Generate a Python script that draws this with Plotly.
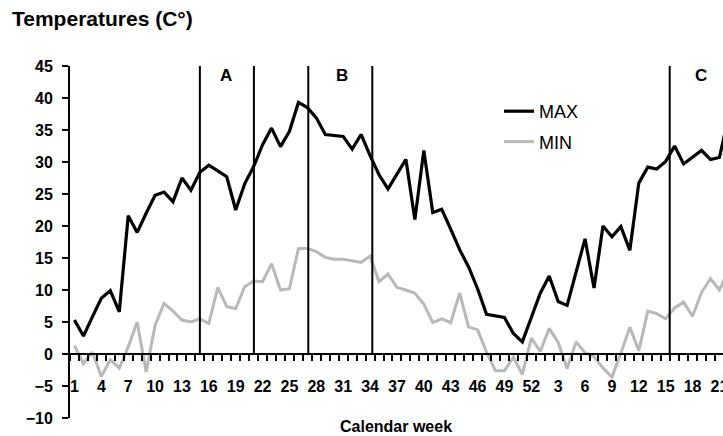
import plotly.graph_objects as go

# Calendar weeks: year 1 weeks 1..52, then year 2 weeks 1..22
weeks = list(range(1, 53)) + list(range(1, 23))

max_temp = [5.3, 2.8, 5.8, 8.7, 9.9, 6.6, 21.6, 19.0, 22.0, 24.8,
            25.3, 23.8, 27.5, 25.6, 28.4, 29.5, 28.6, 27.7, 22.5, 26.6,
            29.3, 32.7, 35.3, 32.4, 34.8, 39.3, 38.5, 36.9, 34.3, 34.2,
            34.0, 32.0, 34.3, 31.0, 28.0, 25.8, 28.0, 30.4, 21.0, 31.8,
            22.1, 22.6, 19.5, 16.3, 13.6, 10.2, 6.2, 6.0, 5.7, 3.2,
            1.9, 5.7, 9.5, 12.2, 8.2, 7.6, 12.6, 18.0, 10.3, 20.0,
            18.3, 19.9, 16.2, 26.7, 29.2, 28.9, 30.1, 32.5, 29.7, 30.8,
            31.8, 30.4, 30.7, 37.0]

min_temp = [1.3, -1.5, 0.3, -3.5, -0.9, -2.2, 1.1, 5.0, -2.8, 4.5,
            7.9, 6.7, 5.3, 5.0, 5.5, 4.8, 10.4, 7.4, 7.1, 10.5,
            11.4, 11.3, 14.1, 10.0, 10.2, 16.5, 16.5, 16.0, 15.1, 14.8,
            14.8, 14.5, 14.3, 15.3, 11.3, 12.5, 10.4, 10.0, 9.5, 7.8,
            4.9, 5.5, 4.9, 9.5, 4.2, 3.8, 0.3, -2.6, -2.6, -0.5,
            -3.2, 2.5, 0.4, 4.0, 1.8, -2.3, 1.9, 0.2, -0.4, -2.2,
            -3.6, 0.1, 4.2, 0.5, 6.7, 6.3, 5.5, 7.2, 8.1, 5.9,
            9.6, 11.8, 10.0, 13.0]

# period boundaries (in week-position units) and period labels
period_lines = [14.0, 20.03, 26.1, 33.25, 66.45]
period_labels = ["A", "B", "C"]
period_label_pos = [16.9, 29.85, 69.95]

x_idx = list(range(len(weeks)))
tick_idx = list(range(0, 73, 3))
tick_text = [str(weeks[i]) for i in tick_idx]

FONT = "Liberation Sans, Arial, sans-serif"

fig = go.Figure()
fig.add_trace(go.Scatter(x=x_idx, y=max_temp, mode="lines", name="MAX",
                         line=dict(color="black", width=3.2), legendgroup="a"))
fig.add_trace(go.Scatter(x=x_idx, y=min_temp, mode="lines", name="MIN",
                         line=dict(color="#b8b8b8", width=3), legendgroup="b"))

for xv in period_lines:
    fig.add_shape(type="line", x0=xv, x1=xv, y0=0, y1=45, xref="x", yref="y",
                  line=dict(color="black", width=2), layer="above")

for lab, xv in zip(period_labels, period_label_pos):
    fig.add_annotation(x=xv, y=43.5, xref="x", yref="y", text="<b>%s</b>" % lab,
                       showarrow=False, font=dict(family=FONT, size=17, color="black"))

fig.add_annotation(x=0.4985, y=-0.025, xref="paper", yref="paper",
                   text="<b>Calendar week</b>", showarrow=False,
                   xanchor="center", yanchor="middle",
                   font=dict(family=FONT, size=16, color="black"))

fig.update_layout(
    width=723, height=436,
    margin=dict(l=70, r=0, t=66, b=18),
    paper_bgcolor="white", plot_bgcolor="white",
    template="none",
    title=dict(text="<b>Temperatures (C°)</b>", x=12/723, xanchor="left",
               y=1 - 19/436, yanchor="middle", xref="container", yref="container",
               font=dict(family=FONT, size=21, color="black")),
    showlegend=True,
    legend=dict(x=(499-70)/653, xanchor="left", y=(418-93)/352, yanchor="top",
                yref="paper", xref="paper",
                font=dict(family=FONT, size=18, color="black"),
                bgcolor="rgba(0,0,0,0)", tracegroupgap=4,
                itemwidth=30),
    xaxis=dict(range=[-0.5, 72.4], showgrid=False, zeroline=False,
               anchor="free", position=10/55,
               showline=True, linecolor="black", linewidth=2,
               tickmode="array", tickvals=tick_idx, ticktext=tick_text,
               ticks="outside", ticklen=6, tickcolor="rgba(0,0,0,0)",
               ticklabelstandoff=12, ticklabeloverflow="allow",
               tickfont=dict(family=FONT, size=16, color="black", weight="bold"),
               minor=dict(tickmode="array",
                          tickvals=[i + 0.5 for i in range(-1, 73)],
                          ticks="outside", ticklen=6, tickwidth=2, tickcolor="black"),
               automargin=False),
    yaxis=dict(range=[-10, 45], dtick=5, showgrid=False, zeroline=False,
               showline=True, linecolor="black", linewidth=2,
               ticks="outside", ticklen=6, tickwidth=2, tickcolor="black",
               ticklabelstandoff=6,
               tickfont=dict(family=FONT, size=16, color="black", weight="bold"),
               automargin=False),
)

fig.write_html("out.html")
